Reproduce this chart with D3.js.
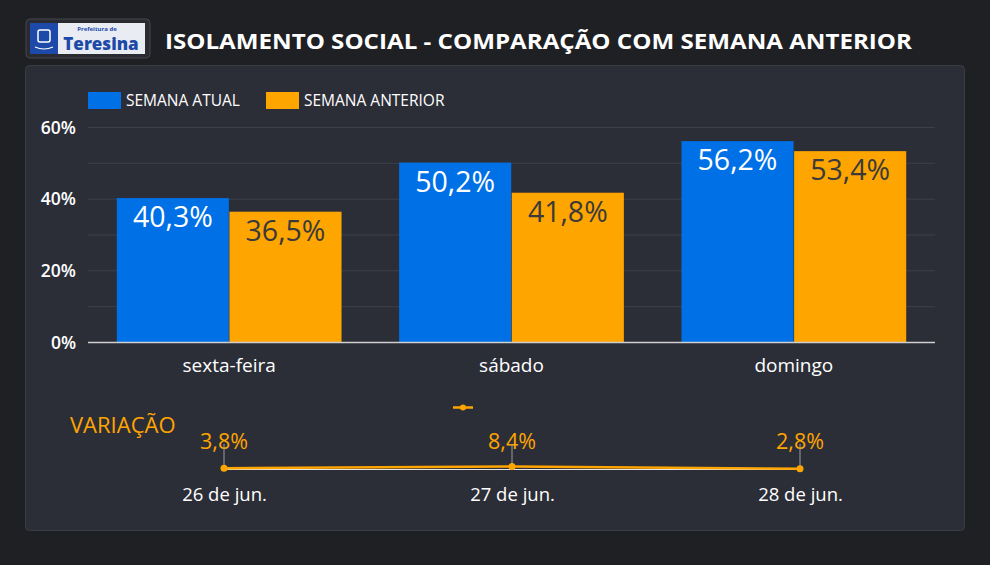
<!DOCTYPE html>
<html><head><meta charset="utf-8">
<script src="https://cdn.jsdelivr.net/npm/d3@7/dist/d3.min.js"></script>
<style>
html,body{margin:0;padding:0;background:#1f2024;}
svg{display:block;font-family:"Open Sans","Noto Sans",sans-serif;}
</style></head>
<body>
<svg id="c" width="990" height="565"></svg>
<script>
const categories = ["sexta-feira", "sábado", "domingo"];
const seriesNames = ["SEMANA ATUAL", "SEMANA ANTERIOR"];
const atual = [40.3, 50.2, 56.2];
const anterior = [36.5, 41.8, 53.4];
const yTicks = [0, 20, 40, 60];
const datas = ["26 de jun.", "27 de jun.", "28 de jun."];
const variacao = [3.8, 8.4, 2.8];

const BLUE = "#0070e6", ORANGE = "#ffa500", PANEL = "#2c2e37";
const fmt = v => d3.format(".1f")(v).replace(".", ",") + "%";

const svg = d3.select("#c");
svg.append("rect").attr("width", 990).attr("height", 565).attr("fill", "#1f2024");

// logo
const logo = svg.append("g");
logo.append("rect").attr("x", 26).attr("y", 19).attr("width", 124).attr("height", 39).attr("rx", 4)
  .attr("fill", "#2a2b30").attr("stroke", "#44464e");
logo.append("rect").attr("x", 30).attr("y", 23).attr("width", 115).attr("height", 31).attr("fill", "#e9ecf2");
logo.append("rect").attr("x", 30).attr("y", 23).attr("width", 28).attr("height", 31).attr("fill", "#1d4aa8");
logo.append("rect").attr("x", 38).attr("y", 30).attr("width", 12).attr("height", 12).attr("rx", 2).attr("fill", "none").attr("stroke", "#fff").attr("stroke-width", 1.5);
logo.append("path").attr("d", "M35 47 Q44 51 53 47").attr("fill", "none").attr("stroke", "#fff").attr("stroke-width", 1.2);
logo.append("text").attr("x", 97).attr("y", 31).attr("font-size", 6).attr("font-weight", 700).attr("fill", "#1d4aa8").attr("text-anchor", "middle").text("Prefeitura de");
logo.append("text").attr("x", 101).attr("y", 50).attr("font-size", 17).attr("font-weight", 800).attr("fill", "#1d4aa8").attr("text-anchor", "middle").text("Teresina");

// title
svg.append("text").attr("x", 165).attr("y", 49).attr("font-size", 22).attr("font-weight", 700)
  .attr("fill", "#ffffff").attr("textLength", 747).attr("lengthAdjust", "spacingAndGlyphs")
  .text("ISOLAMENTO SOCIAL - COMPARAÇÃO COM SEMANA ANTERIOR");

// panel
svg.append("rect").attr("x", 25.5).attr("y", 65.5).attr("width", 939).attr("height", 465).attr("rx", 4)
  .attr("fill", PANEL).attr("stroke", "#3b3d46");

// legend
const leg = svg.append("g");
[[BLUE, 88, seriesNames[0]], [ORANGE, 266, seriesNames[1]]].forEach(([c, x, t]) => {
  leg.append("rect").attr("x", x).attr("y", 92).attr("width", 33).attr("height", 17).attr("fill", c);
  leg.append("text").attr("x", x + 38).attr("y", 106).attr("font-size", 15.5).attr("fill", "#ffffff").text(t);
});

// bar chart
const x0 = d3.scaleBand().domain(categories).range([88, 935]).paddingInner(0.2).paddingOuter(0.1);
const x1 = d3.scaleBand().domain(seriesNames).range([0, x0.bandwidth()]).padding(0.005);
const y = d3.scaleLinear().domain([0, 60]).range([342.5, 127.5]);

const grid = svg.append("g");
d3.range(10, 61, 10).forEach(v => {
  grid.append("line").attr("x1", 88).attr("x2", 935).attr("y1", y(v)).attr("y2", y(v))
    .attr("stroke", "#3d4049").attr("stroke-width", 1);
});

const yAxis = d3.axisLeft(y).tickValues(yTicks).tickSize(0).tickPadding(12).tickFormat(d => d + "%");
const ya = svg.append("g").attr("transform", "translate(88,0)").call(yAxis);
ya.select(".domain").remove();
ya.selectAll("text").attr("font-size", 17.5).attr("fill", "#ffffff").attr("font-family", "Open Sans").attr("font-weight", 600);

const rows = categories.map((c, i) => ({cat: c, vals: [atual[i], anterior[i]]}));
const g = svg.append("g");
rows.forEach(r => {
  r.vals.forEach((v, j) => {
    const xx = x0(r.cat) + x1(seriesNames[j]);
    g.append("rect").attr("x", xx).attr("y", y(v)).attr("width", x1.bandwidth()).attr("height", y(0) - y(v))
      .attr("fill", j === 0 ? BLUE : ORANGE);
    g.append("text").attr("x", xx + x1.bandwidth() / 2).attr("y", y(v) + 29).attr("text-anchor", "middle")
      .attr("font-size", 28.5).attr("fill", j === 0 ? "#ffffff" : "#3a3a3a").text(fmt(v));
  });
});

const xAxis = d3.axisBottom(x0).tickSize(0).tickPadding(16);
const xa = svg.append("g").attr("transform", "translate(0,342.5)").call(xAxis);
xa.select(".domain").attr("stroke", "#cfcfcf").attr("stroke-width", 1.5).attr("d", "M88,0H935");
xa.selectAll("text").attr("font-size", 19).attr("fill", "#ffffff").attr("font-family", "Open Sans");

// variation chart
svg.append("text").attr("x", 70).attr("y", 433).attr("font-size", 22).attr("fill", ORANGE).text("VARIAÇÃO");
const lx = d3.scalePoint().domain(datas).range([224, 800]);
const ly = d3.scaleLinear().domain([0, 100]).range([469.7, 432.7]);

svg.append("line").attr("x1", 224).attr("x2", 800).attr("y1", 469.5).attr("y2", 469.5).attr("stroke", "#e6e6e6").attr("stroke-width", 1);

// legend marker
svg.append("line").attr("x1", 453).attr("x2", 473).attr("y1", 407.5).attr("y2", 407.5).attr("stroke", ORANGE).attr("stroke-width", 2.5);
svg.append("circle").attr("cx", 463).attr("cy", 407.5).attr("r", 3).attr("fill", ORANGE);

const pts = datas.map((d, i) => ({d, v: variacao[i]}));
svg.selectAll(".vl").data(pts).enter().append("text")
  .attr("x", p => lx(p.d)).attr("y", 449).attr("text-anchor", "middle")
  .attr("font-size", 21.5).attr("fill", ORANGE).text(p => fmt(p.v));
pts.forEach(p => {
  svg.append("line").attr("x1", lx(p.d)).attr("x2", lx(p.d)).attr("y1", 444).attr("y2", ly(p.v))
    .attr("stroke", "#9a9ca3").attr("stroke-width", 1);
});
svg.append("path").datum(pts)
  .attr("d", d3.line().x(p => lx(p.d)).y(p => ly(p.v)))
  .attr("fill", "none").attr("stroke", ORANGE).attr("stroke-width", 2.5);
svg.selectAll(".pt").data(pts).enter().append("circle")
  .attr("cx", p => lx(p.d)).attr("cy", p => ly(p.v)).attr("r", 3.5).attr("fill", ORANGE);

const lxa = d3.axisBottom(lx).tickSize(0).tickPadding(12);
const la = svg.append("g").attr("transform", "translate(0,476)").call(lxa);
la.select(".domain").remove();
la.selectAll("text").attr("font-size", 18.5).attr("fill", "#ffffff").attr("font-family", "Open Sans").attr("font-weight", 500);
</script>
</body></html>
